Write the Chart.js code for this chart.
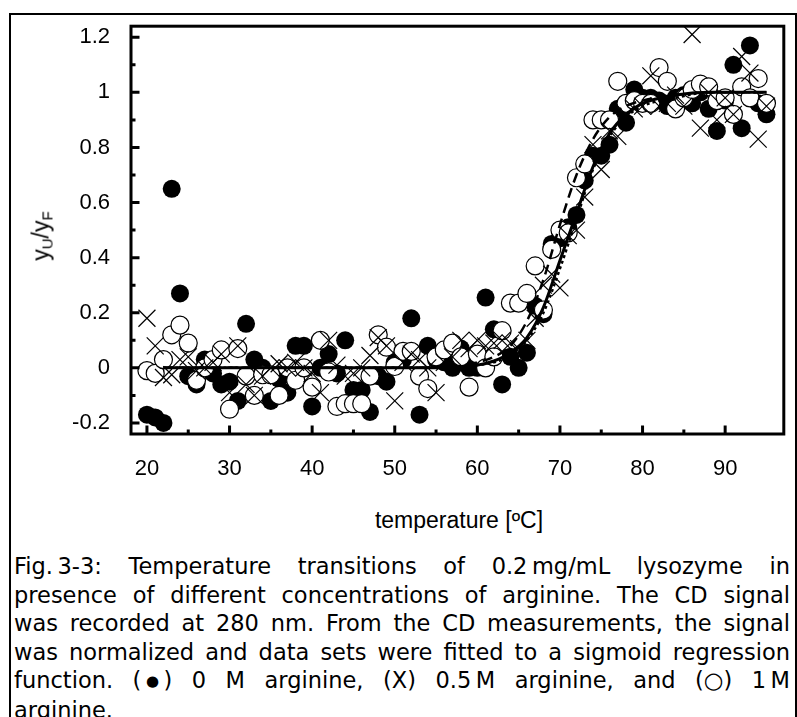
<!DOCTYPE html>
<html>
<head>
<meta charset="utf-8">
<script src="https://cdn.jsdelivr.net/npm/chart.js@4.4.1/dist/chart.umd.min.js"></script>
<style>
    html, body { margin: 0; padding: 0; background: #fff; width: 797px; height: 717px; overflow: hidden; }
    #frame { position: absolute; left: 9px; top: 13px; width: 788px; height: 740px; border: 2px solid #000; box-sizing: border-box; }
    #wrap { position: absolute; left: 0; top: 0; width: 797px; height: 500px; }
    #ytitle { position: absolute; left: 44px; top: 236px; transform: translate(-50%, -50%) rotate(-90deg);
        font: 23px "Liberation Sans", Arial, sans-serif; white-space: nowrap; line-height: 26px; }
    #ytitle sub { font-size: 15px; vertical-align: -4px; }
    #xtitle { position: absolute; left: 131px; width: 656px; top: 507px; text-align: center;
        font: 23px "Liberation Sans", Arial, sans-serif; line-height: 26px; }
    #caption { position: absolute; left: 14px; width: 776px; top: 552px;
        font: 22.5px "DejaVu Sans", sans-serif; line-height: 28.5px; }
    #caption .j { text-align: justify; text-align-last: justify; white-space: nowrap; }
    #caption .k { display: inline-block; }
    #caption .dot { font-size: 15px; vertical-align: 2px; }
</style>
</head>
<body>
<div id="frame"></div>
<div id="wrap"><canvas id="chart"></canvas></div>
<div id="ytitle">y<sub>U</sub>/y<sub>F</sub></div>
<div id="xtitle">temperature [ºC]</div>
<div id="caption">
    <div class="j">Fig.&#8239;3-3: Temperature transitions of <span class="k">0.2&#8239;mg/mL</span> lysozyme in</div>
    <div class="j">presence of different concentrations of arginine. The CD signal</div>
    <div class="j">was recorded at 280 nm. From the CD measurements, the signal</div>
    <div class="j">was normalized and data sets were fitted to a sigmoid regression</div>
    <div class="j">function. <span class="k">(&#8201;<span class="dot">&#9679;</span>&#8201;)</span> 0 M arginine, (X) <span class="k">0.5&#8239;M</span> arginine, and <span class="k">(&#9675;)</span> <span class="k">1&#8239;M</span></div>
    <div>arginine.</div>
</div>
<script>
const temps = [20, 21, 22, 23, 24, 25, 26, 27, 28, 29, 30, 31, 32, 33, 34, 35, 36, 37, 38, 39,
    40, 41, 42, 43, 44, 45, 46, 47, 48, 49, 50, 51, 52, 53, 54, 55, 56, 57, 58, 59,
    60, 61, 62, 63, 64, 65, 66, 67, 68, 69, 70, 71, 72, 73, 74, 75, 76, 77, 78, 79,
    80, 81, 82, 83, 84, 85, 86, 87, 88, 89, 90, 91, 92, 93, 94, 95];

// (●) 0 M arginine
const arg0M = [-0.17, -0.18, -0.20, 0.65, 0.27, -0.03, -0.06, 0.03, -0.02, -0.06,
    -0.05, -0.12, 0.16, 0.03, 0.00, -0.12, -0.04, -0.09, 0.08, 0.08,
    -0.14, 0.00, 0.05, -0.02, 0.10, -0.08, -0.08, -0.16, -0.03, -0.05,
    0.02, 0.03, 0.18, -0.17, 0.08, 0.03, 0.02, 0.00, 0.07, 0.00,
    0.00, 0.255, 0.14, -0.06, 0.04, 0.00, 0.055, 0.225, 0.195, 0.45,
    0.47, 0.51, 0.555, 0.68, 0.77, 0.77, 0.81, 0.94, 0.89, 1.01,
    0.98, 0.98, 0.97, 0.95, 0.98, 0.99, 0.96, 1.00, 0.94, 0.86,
    0.97, 1.10, 0.87, 1.17, 0.96, 0.92];

// (X) 0.5 M arginine
const arg05M = [0.18, 0.08, -0.035, -0.025, 0.03, 0.04, -0.01, 0.00, 0.02, 0.05,
    -0.09, 0.08, -0.06, -0.10, -0.03, 0.00, 0.015, 0.00, 0.02, 0.00,
    -0.02, -0.09, 0.10, 0.01, -0.03, -0.02, 0.00, 0.045, 0.11, 0.08,
    -0.12, 0.02, 0.05, 0.03, 0.00, -0.09, 0.02, 0.04, 0.10, 0.07,
    0.10, 0.08, 0.09, 0.10, 0.09, 0.07, 0.10, 0.18, 0.30, 0.34,
    0.29, 0.48, 0.50, 0.62, 0.81, 0.72, 0.86, 0.84, 0.92, 0.94,
    0.95, 1.06, 0.95, 0.96, 0.99, 0.95, 1.21, 0.87, 1.00, 0.90,
    0.98, 0.92, 1.13, 1.07, 0.83, 0.95];

// (○) 1 M arginine
const arg1M = [-0.01, -0.02, 0.03, 0.12, 0.155, 0.09, -0.045, 0.00, 0.03, 0.065,
    -0.15, 0.07, -0.03, -0.10, -0.025, -0.025, -0.10, 0.00, -0.045, 0.00,
    -0.07, 0.10, -0.015, -0.14, -0.13, -0.13, -0.13, -0.03, 0.12, 0.075,
    0.005, 0.06, 0.06, -0.03, -0.075, 0.04, 0.065, 0.09, 0.04, -0.07,
    0.05, 0.00, 0.04, 0.135, 0.235, 0.235, 0.27, 0.37, 0.21, 0.43,
    0.50, 0.49, 0.69, 0.74, 0.90, 0.90, 0.90, 1.04, 0.96, 0.97,
    0.96, 0.96, 1.09, 1.04, 0.94, 0.98, 1.01, 1.03, 1.02, 0.97,
    0.98, 0.92, 1.02, 0.98, 1.05, 0.96];

// sigmoid fit curves
const fitTemps = [22, 30, 40, 50, 56, 60, 62, 64, 66, 68, 70, 72, 74, 76, 78, 80, 84, 88, 95];
const fit0M = [0, 0, 0, 0, 0, 0.01, 0.025, 0.055, 0.11, 0.22, 0.39, 0.56, 0.73, 0.85, 0.92, 0.96, 0.99, 1.0, 1.0];
const fit05M = [0, 0, 0, 0, 0, 0.01, 0.02, 0.045, 0.10, 0.20, 0.36, 0.54, 0.72, 0.84, 0.91, 0.95, 0.98, 1.0, 1.0];
const fit1M = [0, 0, 0, 0, 0, 0.02, 0.04, 0.08, 0.17, 0.32, 0.52, 0.70, 0.83, 0.91, 0.95, 0.97, 0.99, 1.0, 1.0];

const xLabels = [20, 30, 40, 50, 60, 70, 80, 90];
const xMinor = [25, 35, 45, 55, 65, 75, 85];
const yLabels = [-0.2, 0, 0.2, 0.4, 0.6, 0.8, 1, 1.2];
const yMinor = [-0.1, 0.1, 0.3, 0.5, 0.7, 0.9, 1.1];

function points(xs, ys) {
    return xs.map((x, i) => ({ x, y: ys[i] }));
}

function fitLine(values, dash, width, order) {
    return {
        type: 'line',
        data: points(fitTemps, values),
        borderColor: '#000',
        borderWidth: width,
        borderDash: dash,
        pointRadius: 0,
        fill: false,
        cubicInterpolationMode: 'monotone',
        order
    };
}

// inward ticks and the plot frame
const axisMarks = {
    id: 'axisMarks',
    afterDatasetsDraw(chart) {
        const { ctx, chartArea: a, scales: { x, y } } = chart;
        ctx.save();
        ctx.strokeStyle = '#000';
        ctx.lineWidth = 3;
        ctx.beginPath();
        for (const v of xLabels) {
            const px = x.getPixelForValue(v);
            ctx.moveTo(px, a.bottom);
            ctx.lineTo(px, a.bottom - 8.5);
        }
        for (const v of xMinor) {
            const px = x.getPixelForValue(v);
            ctx.moveTo(px, a.bottom);
            ctx.lineTo(px, a.bottom - 4.5);
        }
        for (const v of yLabels) {
            const py = y.getPixelForValue(v);
            ctx.moveTo(a.left, py);
            ctx.lineTo(a.left + 8.5, py);
        }
        for (const v of yMinor) {
            const py = y.getPixelForValue(v);
            ctx.moveTo(a.left, py);
            ctx.lineTo(a.left + 4.5, py);
        }
        ctx.stroke();
        ctx.strokeRect(a.left, a.top, a.right - a.left, a.bottom - a.top);
        ctx.restore();
    }
};

const tickFont = { family: '"Liberation Sans", Arial, sans-serif', size: 22 };

function main() {
    const context = document.getElementById('chart').getContext('2d');
    new Chart(context, {
        type: 'scatter',
        data: {
            datasets: [
                {
                    data: points(temps, arg05M),
                    pointStyle: 'crossRot',
                    pointRadius: 12,
                    borderColor: '#000',
                    borderWidth: 1.2,
                    order: 0
                },
                fitLine(fit0M, [], 3, 1),
                fitLine(fit1M, [10, 6], 2.5, 1),
                fitLine(fit05M, [3, 3], 2.5, 1),
                {
                    data: points(temps, arg1M),
                    pointStyle: 'circle',
                    pointRadius: 9,
                    backgroundColor: '#fff',
                    borderColor: '#000',
                    borderWidth: 1.2,
                    order: 2
                },
                {
                    data: points(temps, arg0M),
                    pointStyle: 'circle',
                    pointRadius: 9,
                    backgroundColor: '#000',
                    borderColor: '#000',
                    borderWidth: 0,
                    order: 3
                }
            ]
        },
        options: {
            responsive: true,
            maintainAspectRatio: false,
            animation: false,
            clip: false,
            layout: { padding: { top: 23, right: 10, left: 0, bottom: 0 } },
            plugins: { legend: { display: false }, tooltip: { enabled: false } },
            scales: {
                x: {
                    type: 'linear',
                    min: 18.07,
                    max: 97.1,
                    afterBuildTicks: scale => { scale.ticks = xLabels.map(value => ({ value })); },
                    afterFit: scale => { scale.height = 500 - 434; },
                    grid: { display: false },
                    border: { display: false },
                    ticks: { color: '#000', font: tickFont, padding: 14, maxRotation: 0, autoSkip: false,
                        callback: value => String(value) }
                },
                y: {
                    type: 'linear',
                    min: -0.24,
                    max: 1.24,
                    afterBuildTicks: scale => { scale.ticks = yLabels.map(value => ({ value })); },
                    afterFit: scale => { scale.width = 131; },
                    grid: { display: false },
                    border: { display: false },
                    ticks: { color: '#000', font: tickFont, padding: 13, autoSkip: false,
                        callback: value => String(value) }
                }
            }
        },
        plugins: [axisMarks]
    });
}

document.addEventListener('DOMContentLoaded', main);
</script>
</body>
</html>
